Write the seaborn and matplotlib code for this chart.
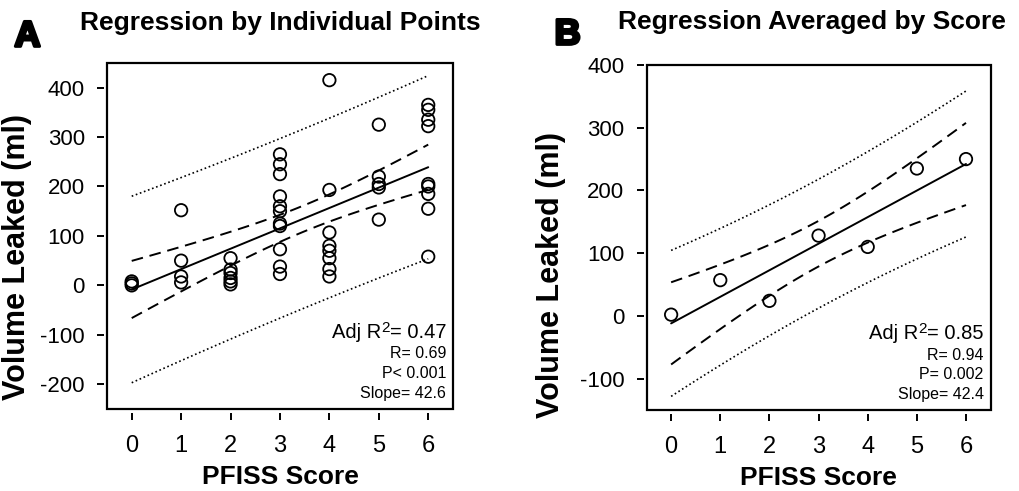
import numpy as np
import pandas as pd
import matplotlib
matplotlib.use('Agg')
import matplotlib.pyplot as plt
import matplotlib.patheffects as pe
from matplotlib.patches import Rectangle
import seaborn as sns

# panel A: every patient
score_a = [0, 0, 0,
           1, 1, 1, 1,
           2, 2, 2, 2, 2, 2,
           3, 3, 3, 3, 3, 3, 3, 3, 3, 3, 3,
           4, 4, 4, 4, 4, 4, 4, 4,
           5, 5, 5, 5, 5,
           6, 6, 6, 6, 6, 6, 6, 6, 6]
leak_a = [8, 4, 0,
          152, 50, 18, 6,
          55, 32, 25, 15, 8, 2,
          265, 245, 225, 180, 160, 150, 125, 120, 73, 38, 23,
          415, 193, 107, 80, 70, 55, 33, 18,
          325, 220, 205, 198, 133,
          365, 355, 335, 322, 205, 200, 185, 155, 58]

# panel B: mean per score
score_b = [0, 1, 2, 3, 4, 5, 6]
leak_b = [2, 57, 24, 128, 110, 235, 250]

stats_a = ['R= 0.69', 'P< 0.001', 'Slope= 42.6']
stats_b = ['R= 0.94', 'P= 0.002', 'Slope= 42.4']
r2_a = '0.47'
r2_b = '0.85'

sns.set_style('ticks')
plt.rcParams['font.family'] = ['Liberation Sans', 'DejaVu Sans']
plt.rcParams['axes.unicode_minus'] = False
for key in ['text.color', 'axes.labelcolor', 'xtick.color', 'ytick.color', 'axes.edgecolor']:
    plt.rcParams[key] = 'black'


def bands(x, y, t):
    x = np.asarray(x, float)
    y = np.asarray(y, float)
    n = len(x)
    b, a = np.polyfit(x, y, 1)
    xs = np.linspace(0, 6, 60)
    s = np.sqrt(np.sum((y - (a + b * x)) ** 2) / (n - 2))
    sxx = np.sum((x - x.mean()) ** 2)
    ci = t * s * np.sqrt(1 / n + (xs - x.mean()) ** 2 / sxx)
    pi = t * s * np.sqrt(1 + 1 / n + (xs - x.mean()) ** 2 / sxx)
    return xs, a + b * xs, ci, pi


def panel(ax, x, y, t, ylim, yticks, r2, stats):
    df = pd.DataFrame({'score': x, 'leak': y})
    xs, fit, ci, pi = bands(x, y, t)
    ax.plot(xs, fit, color='black', lw=1.4)
    ax.plot(xs, fit + ci, color='black', lw=1.4, ls=(0, (6, 3.5)))
    ax.plot(xs, fit - ci, color='black', lw=1.4, ls=(0, (6, 3.5)))
    ax.plot(xs, fit + pi, color='black', lw=1.2, ls=(0, (1, 1.6)))
    ax.plot(xs, fit - pi, color='black', lw=1.2, ls=(0, (1, 1.6)))
    sns.scatterplot(data=df, x='score', y='leak', ax=ax, marker='o', s=80,
                    facecolor='none', edgecolor='black', linewidth=1.3, zorder=4)
    ax.set_xlim(-0.5, 6.5)
    ax.set_ylim(*ylim)
    ax.set_xticks(score_b)
    ax.set_yticks(yticks)
    for side in ['top', 'right', 'left', 'bottom']:
        ax.spines[side].set_visible(False)
    ax.spines['bottom'].set_position(('outward', 3))
    ax.spines['left'].set_position(('outward', 2))
    ax.add_patch(Rectangle((0, 0), 1, 1, transform=ax.transAxes, fill=False,
                           lw=1.6, edgecolor='black', clip_on=False, zorder=5))
    ax.tick_params(axis='both', direction='out', length=5, width=1.4, color='black')
    ax.tick_params(axis='y', labelsize=16, pad=9)
    ax.tick_params(axis='x', labelsize=17, pad=11)
    ax.set_xlabel('PFISS Score', fontsize=19, fontweight='bold')
    ax.set_ylabel('Volume Leaked (ml)', fontsize=22, fontweight='bold')

    # "Adj R² = .." built from pieces so the superscript stays large
    t1 = ax.text(0.98, 0.205, '= ' + r2, transform=ax.transAxes,
                 ha='right', va='baseline', fontsize=14.5)
    t2 = ax.annotate('2', xy=(0, 1), xycoords=t1, xytext=(0, 1.5),
                     textcoords='offset points', ha='right', va='top', fontsize=11)
    ax.annotate('Adj R', xy=(0, 0), xycoords=(t2, t1), ha='right', va='bottom',
                fontsize=14.5)
    for i, s in enumerate(stats):
        ax.text(0.98, 0.159 - i * 0.057, s, transform=ax.transAxes,
                ha='right', va='center', fontsize=11.5)


fig = plt.figure(figsize=(10.19, 4.91), dpi=100)
ax1 = fig.add_axes([0.105, 0.167, 0.3395, 0.705])
ax2 = fig.add_axes([0.6345, 0.165, 0.3376, 0.7026])

panel(ax1, score_a, leak_a, 2.0154, (-250, 450),
      [-200, -100, 0, 100, 200, 300, 400], r2_a, stats_a)
panel(ax2, score_b, leak_b, 2.5706, (-150, 400),
      [-100, 0, 100, 200, 300, 400], r2_b, stats_b)

ax1.xaxis.set_label_coords(0.5, -0.163)
ax2.xaxis.set_label_coords(0.5, -0.163)
ax1.yaxis.set_label_coords(-0.217, 0.44)
ax2.yaxis.set_label_coords(-0.234, 0.39)

fig.text(0.275, 0.953, 'Regression by Individual Points', ha='center', va='center',
         fontsize=19, fontweight='bold')
fig.text(0.797, 0.955, 'Regression Averaged by Score', ha='center', va='center',
         fontsize=19, fontweight='bold')
heavy = [pe.withStroke(linewidth=2.2, foreground='black')]
fig.text(0.027, 0.925, 'A', ha='center', va='center', fontsize=26,
         fontweight='bold', path_effects=heavy)
fig.text(0.557, 0.929, 'B', ha='center', va='center', fontsize=26,
         fontweight='bold', path_effects=heavy)

fig.savefig('out.png', dpi=100)
